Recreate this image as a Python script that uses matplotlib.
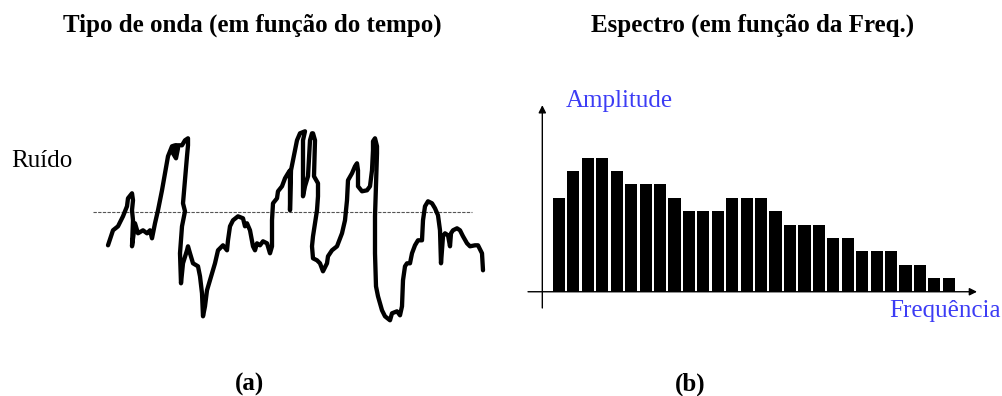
import matplotlib.pyplot as plt
import numpy as np

W, H = 1002, 396

# sinal de ruido: tempo e amplitude (relativa a linha media)
tempo = [18, 23, 28, 33, 37, 38, 42, 43, 42, 43, 42, 45, 48, 53, 57, 60, 62, 65, 68, 72,
         75, 78, 82, 85, 88, 86, 83, 87, 92, 95, 98, 98, 97, 95, 93, 95, 92, 90, 91, 93,
         97, 98, 100, 103, 108, 110, 112, 113, 115, 117, 120, 123, 125, 128, 132, 133, 137, 138, 140, 143,
         148, 153, 155, 157, 160, 163, 165, 167, 170, 173, 177, 180, 182, 182, 183, 187, 188, 192, 195, 198,
         200, 200, 201, 203, 205, 207, 210, 215, 213, 213, 215, 218, 220, 222, 223, 225, 224, 228, 228, 227,
         223, 222, 223, 227, 230, 233, 237, 238, 242, 247, 252, 255, 257, 258, 262, 265, 267, 268, 268, 272,
         277, 280, 282, 283, 283, 285, 287, 287, 286, 285, 285, 286, 288, 292, 295, 300, 302, 307, 310, 312,
         313, 315, 317, 320, 322, 325, 328, 332, 333, 335, 338, 342, 345, 348, 350, 351, 353, 355, 358, 360,
         361, 363, 367, 370, 373, 377, 380, 385, 388, 392, 393]
sinal = [-33, -18, -14, -4, 6, 14, 19, 12, 2, -8, -34, -11, -21, -18, -21, -18, -26, -11, 2, 22,
         39, 56, 66, 67, 64, 54, 59, 67, 67, 72, 74, 67, 56, 32, 9, 1, -14, -41, -71, -51,
         -38, -34, -41, -51, -54, -64, -81, -104, -94, -78, -68, -58, -51, -38, -34, -33, -38, -28, -14, -8,
         -4, -6, -14, -11, -18, -34, -38, -31, -33, -29, -31, -41, -34, -8, 9, 14, 21, 26, 34, 39,
         42, 2, 42, 52, 62, 72, 79, 81, 72, 16, 26, 36, 72, 79, 79, 72, 36, 29, 16, 2,
         -24, -34, -46, -48, -51, -59, -51, -44, -38, -34, -21, -8, 12, 32, 39, 46, 49, 42, 26, 21,
         22, 26, 42, 62, 71, 74, 66, 59, 26, -4, -41, -74, -84, -98, -104, -108, -101, -99, -103, -94,
         -68, -54, -51, -51, -41, -33, -28, -28, -8, 6, 11, 9, 4, -3, -18, -51, -24, -21, -23, -34,
         -21, -18, -16, -18, -24, -31, -34, -33, -33, -41, -58]

# espectro: amplitude de cada faixa de frequencia
amplitudes = [7, 9, 10, 10, 9, 8, 8, 8, 7, 6, 6, 6, 7, 7, 7, 6, 5, 5, 5, 4, 4, 3, 3, 3, 2, 2, 1, 1]

titulos = ["Tipo de onda (em função do tempo)", "Espectro (em função da Freq.)"]
rotulos = ["(a)", "(b)"]

serif = ['Liberation Serif', 'DejaVu Serif']
azul = '#3c3cf5'
fs = 18


def px_axes(fig, x0, y0, x1, y1):
    # cria eixos a partir de uma caixa em pixels (origem no topo)
    return fig.add_axes([x0 / W, 1 - y1 / H, (x1 - x0) / W, (y1 - y0) / H])


def px_text(fig, x, y, s, **kw):
    fig.text(x / W, 1 - y / H, s, family=serif, fontsize=fs, va='center', **kw)


fig = plt.figure(figsize=(W / 100, H / 100), dpi=100)
fig.patch.set_facecolor('white')

# (a) forma de onda
ax1 = px_axes(fig, 90, 120, 500, 330)
ax1.set_xlim(0, 410)
ax1.set_ylim(-117.7, 92.3)
ax1.axis('off')
ax1.plot([3, 382], [0, 0], color='#555555', lw=0.8, linestyle=(0, (3, 1.2)))
ax1.plot(tempo, sinal, color='black', lw=3.1, solid_joinstyle='round',
         solid_capstyle='round')

# (b) espectro
ax2 = px_axes(fig, 500, 90, 1002, 330)
ax2.set_xlim(-4.08, 30.68)
ax2.set_ylim(-2.85, 15.03)
ax2.axis('off')
x = np.arange(len(amplitudes))
ax2.bar(x, amplitudes, width=0.84, color='black', align='center')
seta = dict(arrowstyle='-|>', color='black', lw=1.0, mutation_scale=11,
            shrinkA=0, shrinkB=0)
ax2.annotate('', xy=(28.95, 0), xytext=(-2.14, 0), arrowprops=seta)
ax2.annotate('', xy=(-1.15, 13.9), xytext=(-1.15, -1.21), arrowprops=seta)

px_text(fig, 252, 25, titulos[0], weight='bold', ha='center')
px_text(fig, 753, 25, titulos[1], weight='bold', ha='center')
px_text(fig, 249, 384, rotulos[0], weight='bold', ha='center')
px_text(fig, 690, 384, rotulos[1], weight='bold', ha='center')
px_text(fig, 11, 161, "Ruído", ha='left')
px_text(fig, 566, 101, "Amplitude", color=azul, ha='left')
px_text(fig, 889, 311, "Frequência", color=azul, ha='left')

fig.savefig('out.png', dpi=100)
